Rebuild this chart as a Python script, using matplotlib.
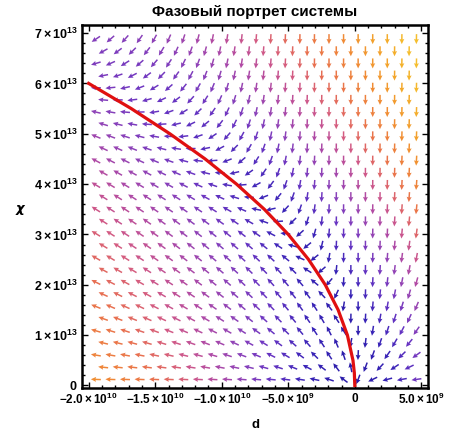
import numpy as np
import matplotlib
matplotlib.use("Agg")
import matplotlib.pyplot as plt
from matplotlib.colors import LinearSegmentedColormap, Normalize
from matplotlib.ticker import FixedLocator, MultipleLocator

plt.rcParams['font.family'] = ['Liberation Sans', 'DejaVu Sans']
plt.rcParams['mathtext.fontset'] = 'custom'
plt.rcParams['mathtext.rm'] = 'Liberation Sans:bold'
plt.rcParams['mathtext.it'] = 'Liberation Sans:bold'

# --- данные ---
title = "Фазовый портрет системы"
x_label = "d"
y_label = "χ"

# красная кривая
curve_chi = np.array([0, 0.25, 0.5, 1, 1.5, 2, 2.5, 3, 3.5, 4, 4.5, 5, 5.5, 6]) * 1e13
curve_d = np.array([0, -0.035, -0.139, -0.556, -1.25, -2.22, -3.47, -5.0,
                    -6.8, -8.89, -11.25, -13.9, -16.8, -20.0]) * 1e9

x_ticks = [-2.0e10, -1.5e10, -1.0e10, -5.0e9, 0, 5.0e9]
x_ticklabels = [r'$-2.0\times10^{10}$', r'$-1.5\times10^{10}$', r'$-1.0\times10^{10}$',
                r'$-5.0\times10^{9}$', r'$0$', r'$5.0\times10^{9}$']
y_ticks = [0, 1e13, 2e13, 3e13, 4e13, 5e13, 6e13, 7e13]
y_ticklabels = [r'$0$'] + [r'$%d\times10^{13}$' % i for i in range(1, 8)]

# система (масштабы по концу кривой)
d_ref, chi_ref = 2e10, 6e13
k_d = 0.62
h0, hx, hy, hxy = 1.6, 1.32, -1.94, -0.84

# сетка стрелок (шахматная)
n_rows = 29
chi_max = 7e13
d_start, d_step = -1.946e10, 1.095e9


def field(d, chi):
    x = d / d_ref
    y = chi / chi_ref
    h = np.exp(h0 + hx * x + hy * y + hxy * x * y)
    u = -k_d * x ** 2 * h
    v = -y * (y ** 2 + x) * h
    return u, v


D, C = [], []
for i in range(n_rows):
    chi = (i + 0.5) * chi_max / n_rows
    n = 23 if i % 2 == 0 else 22
    for j in range(n):
        D.append(d_start + (j + 0.5 * (i % 2)) * d_step)
        C.append(chi)
D = np.array(D)
C = np.array(C)
U, V = field(D, C)
mag = np.hypot(U, V)
U1, V1 = U / mag, V / mag
t = np.clip(mag, 0, 1) ** 0.75

cmap = LinearSegmentedColormap.from_list(
    'mm', [(0.0, '#2a1ca8'), (0.15, '#3a24b8'), (0.3, '#6a35c2'), (0.4, '#8d42b8'),
           (0.5, '#b04aa5'), (0.6, '#d25a85'), (0.7, '#e8704f'), (0.82, '#f08a35'),
           (0.92, '#f3a52a'), (1.0, '#f5be2e')])

fig = plt.figure(figsize=(4.53, 4.36), dpi=100)
ax = fig.add_axes([82 / 453, 1 - 388 / 436, (428 - 82) / 453, (388 - 25) / 436])

ax.quiver(D, C, U1, V1, t, cmap=cmap, norm=Normalize(0, 1), angles='uv',
          scale_units='dots', scale=1 / 10.0, units='dots', width=1.5,
          headwidth=3.3, headlength=3.5, headaxislength=3.1, pivot='middle')

ax.plot(curve_d, curve_chi, color='#e01010', lw=2.3, zorder=5)

ax.set_xlim(-2.05e10, 5.5e9)
ax.set_ylim(-0.05e13, 7.16e13)

ax.xaxis.set_major_locator(FixedLocator(x_ticks))
ax.set_xticklabels(x_ticklabels)
ax.yaxis.set_major_locator(FixedLocator(y_ticks))
ax.set_yticklabels(y_ticklabels)
ax.xaxis.set_minor_locator(MultipleLocator(1e9))
ax.yaxis.set_minor_locator(MultipleLocator(0.2e13))
ax.tick_params(which='both', direction='in', top=True, right=True, width=1.0,
               labelsize=8.5, pad=3)
ax.tick_params(axis='y', labelsize=9)
ax.tick_params(which='major', length=4)
ax.tick_params(which='minor', length=2.2)
for s in ax.spines.values():
    s.set_linewidth(1.8)

fig.text(255 / 453, 1 - 12 / 436, title, ha='center', va='center',
         fontsize=11, fontweight='bold')
fig.text(255 / 453, 1 - 425 / 436, x_label, ha='center', va='center',
         fontsize=9.5, fontweight='bold')
fig.text(20 / 453, 1 - 208 / 436, y_label, ha='center', va='center',
         fontsize=9.5, fontstyle='italic', fontweight='bold', family='DejaVu Sans')

fig.savefig('out.png', dpi=100)
